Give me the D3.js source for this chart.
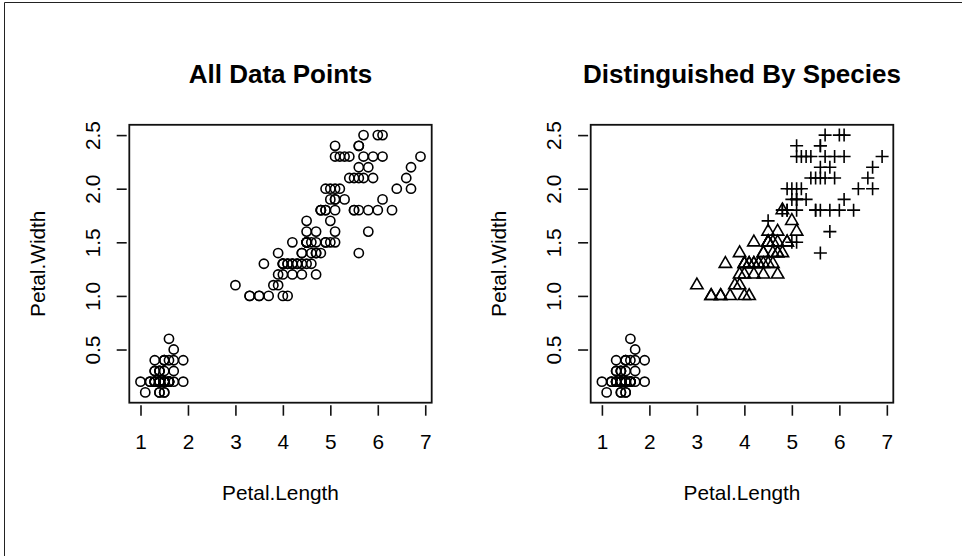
<!DOCTYPE html>
<html>
<head>
<meta charset="utf-8">
<script src="https://cdn.jsdelivr.net/npm/d3@7"></script>
<style>
  html, body { margin: 0; padding: 0; background: #fff; }
  svg { display: block; }
  text { font-family: "Liberation Sans", Arial, Helvetica, sans-serif; fill: #000; }
</style>
</head>
<body>
<svg id="chart" width="962" height="556"></svg>
<script>
// ---- Data (iris: Petal.Length, Petal.Width by species) ----
const setosaLength = [1.4,1.4,1.3,1.5,1.4,1.7,1.4,1.5,1.4,1.5,1.5,1.6,1.4,1.1,1.2,1.5,1.3,1.4,1.7,1.5,1.7,1.5,1.0,1.7,1.9,1.6,1.6,1.5,1.4,1.6,1.6,1.5,1.5,1.4,1.5,1.2,1.3,1.4,1.3,1.5,1.3,1.3,1.3,1.6,1.9,1.4,1.6,1.4,1.5,1.4];
const setosaWidth  = [0.2,0.2,0.2,0.2,0.2,0.4,0.3,0.2,0.2,0.1,0.2,0.2,0.1,0.1,0.2,0.4,0.4,0.3,0.3,0.3,0.2,0.4,0.2,0.5,0.2,0.2,0.4,0.2,0.2,0.2,0.2,0.4,0.1,0.2,0.2,0.2,0.2,0.1,0.2,0.2,0.3,0.3,0.2,0.6,0.4,0.3,0.2,0.2,0.2,0.2];
const versicolorLength = [4.7,4.5,4.9,4.0,4.6,4.5,4.7,3.3,4.6,3.9,3.5,4.2,4.0,4.7,3.6,4.4,4.5,4.1,4.5,3.9,4.8,4.0,4.9,4.7,4.3,4.4,4.8,5.0,4.5,3.5,3.8,3.7,3.9,5.1,4.5,4.5,4.7,4.4,4.1,4.0,4.4,4.6,4.0,3.3,4.2,4.2,4.2,4.3,3.0,4.1];
const versicolorWidth  = [1.4,1.5,1.5,1.3,1.5,1.3,1.6,1.0,1.3,1.4,1.0,1.5,1.0,1.4,1.3,1.4,1.5,1.0,1.5,1.1,1.8,1.3,1.5,1.2,1.3,1.4,1.4,1.7,1.5,1.0,1.1,1.0,1.2,1.6,1.5,1.6,1.5,1.3,1.3,1.3,1.2,1.4,1.2,1.0,1.3,1.2,1.3,1.3,1.1,1.3];
const virginicaLength = [6.0,5.1,5.9,5.6,5.8,6.6,4.5,6.3,5.8,6.1,5.1,5.3,5.5,5.0,5.1,5.3,5.5,6.7,6.9,5.0,5.7,4.9,6.7,4.9,5.7,6.0,4.8,4.9,5.6,5.8,6.1,6.4,5.6,5.1,5.6,6.1,5.6,5.5,4.8,5.4,5.6,5.1,5.1,5.9,5.7,5.2,5.0,5.2,5.4,5.1];
const virginicaWidth  = [2.5,1.9,2.1,1.8,2.2,2.1,1.7,1.8,1.8,2.5,2.0,1.9,2.1,2.0,2.4,2.3,1.8,2.2,2.3,1.5,2.3,2.0,2.0,1.8,2.1,1.8,1.8,1.8,2.1,1.6,1.9,2.0,2.2,1.5,1.4,2.3,2.4,1.8,1.8,2.1,2.4,2.3,1.9,2.3,2.5,2.3,1.9,2.0,2.3,1.8];
const speciesNames = ["setosa", "versicolor", "virginica"];
const xTicks = [1, 2, 3, 4, 5, 6, 7];
const yTicks = [0.5, 1.0, 1.5, 2.0, 2.5];
const yTickLabels = ["0.5", "1.0", "1.5", "2.0", "2.5"];
const panelTitles = ["All Data Points", "Distinguished By Species"];
const xLabel = "Petal.Length";
const yLabel = "Petal.Width";

// ---- Build rows ----
const lengths = [setosaLength, versicolorLength, virginicaLength];
const widths = [setosaWidth, versicolorWidth, virginicaWidth];
const rows = [];
speciesNames.forEach((s, si) => {
  lengths[si].forEach((L, i) => rows.push({ species: s, si, len: L, wid: widths[si][i] }));
});

const svg = d3.select("#chart");
svg.append("rect").attr("width", 962).attr("height", 556).attr("fill", "#fff");
// outer frame (left and top edges visible)
svg.append("path").attr("d", "M4.5,556 L4.5,2.5 L962,2.5")
  .attr("fill", "none").attr("stroke", "#222").attr("stroke-width", 1);

// R-style extended domain (4%)
const xExt = d3.extent(rows, d => d.len), yExt = d3.extent(rows, d => d.wid);
const xPad = (xExt[1] - xExt[0]) * 0.04, yPad = (yExt[1] - yExt[0]) * 0.04;

const panels = [
  { left: 129.3, right: 431.7, title: panelTitles[0], bySpecies: false },
  { left: 590.7, right: 893.3, title: panelTitles[1], bySpecies: true }
];
const plotTop = 124.8, plotBottom = 402.7;
const R = 4.6;
const labelSize = "20.8px", titleSize = "26px";

function symbolPath(type) {
  if (type === 1) {
    const r = 1.5551 * R, h = r * Math.sqrt(3) / 2, b = r / 2;
    return `M0,${-r} L${h},${b} L${-h},${b} Z`;
  }
  if (type === 2) {
    const a = Math.SQRT2 * R;
    return `M${-a},0 L${a},0 M0,${-a} L0,${a}`;
  }
  return null;
}

panels.forEach(p => {
  const x = d3.scaleLinear().domain([xExt[0] - xPad, xExt[1] + xPad]).range([p.left, p.right]);
  const y = d3.scaleLinear().domain([yExt[0] - yPad, yExt[1] + yPad]).range([plotBottom, plotTop]);
  const g = svg.append("g");

  // points
  rows.forEach(d => {
    const t = p.bySpecies ? d.si : 0;
    if (t === 0) {
      g.append("circle").attr("cx", x(d.len)).attr("cy", y(d.wid)).attr("r", R)
        .attr("fill", "none").attr("stroke", "#000").attr("stroke-width", 1.6);
    } else {
      g.append("path").attr("transform", `translate(${x(d.len)},${y(d.wid)})`)
        .attr("d", symbolPath(t))
        .attr("fill", "none").attr("stroke", "#000").attr("stroke-width", 1.6);
    }
  });

  // box
  g.append("rect").attr("x", p.left).attr("y", plotTop)
    .attr("width", p.right - p.left).attr("height", plotBottom - plotTop)
    .attr("fill", "none").attr("stroke", "#111").attr("stroke-width", 1.8);

  // x axis
  const xa = g.append("g").attr("transform", `translate(0,${plotBottom + 2.5})`)
    .call(d3.axisBottom(x).tickValues(xTicks).tickSize(10.5).tickFormat(d3.format("d")));
  xa.select(".domain").remove();
  xa.selectAll(".tick line").attr("stroke", "#111").attr("stroke-width", 1.6);
  xa.selectAll(".tick text").attr("y", 449 - (plotBottom + 2.5)).attr("dy", null)
    .style("font-size", labelSize).attr("fill", "#000");
  xa.attr("font-family", null).attr("font-size", null);

  // y axis
  const ya = g.append("g").attr("transform", `translate(${p.left - 2.6},0)`)
    .call(d3.axisLeft(y).tickValues(yTicks).tickSize(10).tickFormat((d, i) => yTickLabels[i]));
  ya.select(".domain").remove();
  ya.selectAll(".tick line").attr("stroke", "#111").attr("stroke-width", 1.6);
  ya.selectAll(".tick text").attr("x", null).attr("dy", null)
    .attr("transform", `translate(${(p.left - 29.3) - (p.left - 2.6)},0) rotate(-90)`)
    .attr("text-anchor", "middle").style("font-size", labelSize).attr("fill", "#000");
  ya.attr("font-family", null).attr("font-size", null);

  // axis titles
  g.append("text").attr("x", (p.left + p.right) / 2).attr("y", 500)
    .attr("text-anchor", "middle").style("font-size", labelSize).text(xLabel);
  g.append("text")
    .attr("transform", `translate(${p.left - 84.3},${(plotTop + plotBottom) / 2}) rotate(-90)`)
    .attr("text-anchor", "middle").style("font-size", labelSize).text(yLabel);

  // title
  g.append("text").attr("x", (p.left + p.right) / 2).attr("y", 83)
    .attr("text-anchor", "middle").style("font-size", titleSize).style("font-weight", "bold")
    .text(p.title);
});
</script>
</body>
</html>
